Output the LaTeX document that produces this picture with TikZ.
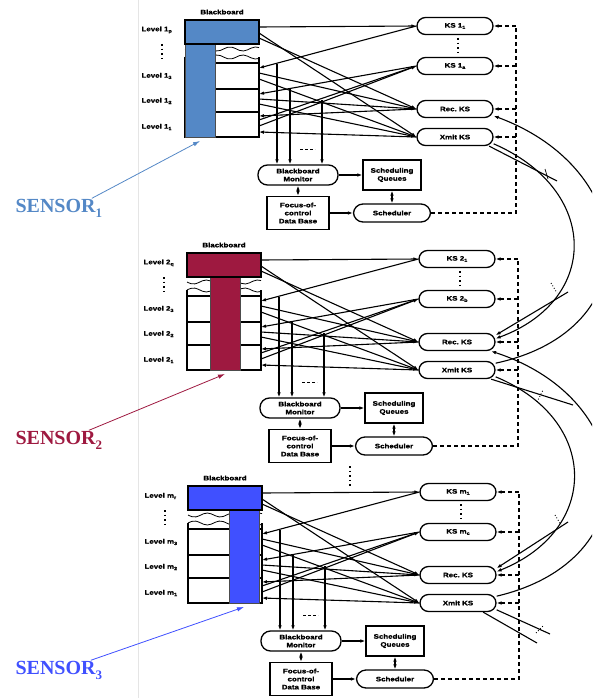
\documentclass[tikz,border=0pt]{standalone}
\usepackage{fontspec}
\usetikzlibrary{arrows.meta}
\newfontfamily\figfont[FakeStretch=1.22,BoldFeatures={FakeBold=1.2}]{Liberation Sans}
\newfontfamily\senfont{Liberation Serif}
\newcommand\lsub[1]{\raisebox{-1.3pt}{\fontsize{4.5}{5}\selectfont #1}}
\newcommand\sensub[1]{\raisebox{-5pt}{\fontsize{13}{13}\selectfont #1}}
\definecolor{sensorA}{RGB}{84,136,198}
\definecolor{sensorB}{RGB}{158,25,64}
\definecolor{sensorC}{RGB}{64,80,255}
\tikzset{
  lbl/.style={font=\figfont\fontsize{6.5}{8}\selectfont\bfseries, inner sep=0pt, align=center},
  tip/.style={-{Latex[length=5pt,width=3.6pt]}},
  dtip/.style={{Latex[length=5pt,width=3.6pt]}-{Latex[length=5pt,width=3.6pt]}},
  ksbox/.style={lbl, draw, line width=1.3pt, rounded corners=8.5pt, minimum width=76pt, minimum height=17pt},
  stadium/.style={lbl, draw, line width=1.3pt, rounded corners=9.5pt},
  rectbox/.style={lbl, draw, line width=1.3pt},
  dotline/.style={line width=1.6pt, dash pattern=on 1.6pt off 3pt},
  feedback/.style={line width=1.1pt, dash pattern=on 4pt off 3pt},
  senlbl/.style={font=\senfont\fontsize{20}{22}\selectfont\bfseries, inner sep=0pt, anchor=west},
  senarrow/.style={line width=0.8pt, -{Latex[length=7pt,width=4.5pt]}}
}
\begin{document}
\begin{tikzpicture}[x=1pt,y=-1pt,line width=1.1pt]
\useasboundingbox (0,0) rectangle (592,698);
\clip (0,0) rectangle (592,698);

% Drawing edge of the scanned page
\draw[black!10,line width=0.6pt] (138,0) -- (138,698);

% Drawing the three sensor nodes
\foreach \b/\dx/\dy/\lv/\lt/\kc/\tcol/\tx in
  {1/0/0/1/p/a/sensorA/185, 2/2/233/2/q/b/sensorB/208, 3/3/466/m/r/c/sensorC/226}{
\begin{scope}[shift={(\dx,\dy)}]
  % Drawing blackboard levels
  \node[lbl] (bb-\b) at (222,12) {Blackboard};
  \draw[line width=1.3pt] (185,57) -- (185,137) -- (259,137) -- (259,57);
  \draw (185,63) -- (259,63);
  \draw (185,89) -- (259,89);
  \draw (185,112) -- (259,112);
  \draw[line width=0.8pt] plot[smooth,domain=0:74,samples=20] ({185+\x},{49+2*sin(\x*14)});
  \draw[line width=0.8pt] plot[smooth,domain=0:74,samples=20] ({185+\x},{57-2*sin(\x*14)});

  % Filling sensor T
  \fill[\tcol] (185,20) rectangle (259,44);
  \fill[\tcol] (\tx,44) rectangle (\tx+30,137);
  \draw[line width=0.4pt,black!70] (\tx,44) -- (\tx,137) -- (\tx+30,137) -- (\tx+30,44);
  \draw[line width=1.3pt] (185,20) rectangle (259,44);
  \coordinate (tb-\b) at (\tx+15,141);

  % Marking levels
  \node[lbl,anchor=west] (lvt-\b) at (141,30) {Level \lv\lsub{\lt}};
  \node[lbl,anchor=west] (lv3-\b) at (141,76) {Level \lv\lsub{3}};
  \node[lbl,anchor=west] (lv2-\b) at (141,101) {Level \lv\lsub{2}};
  \node[lbl,anchor=west] (lv1-\b) at (141,127) {Level \lv\lsub{1}};
  \draw[dotline] (162,44) -- (162,61);

  % Drawing knowledge sources
  \node[ksbox] (ks1-\b) at (455,26) {KS \lv\lsub{1}};
  \node[ksbox] (ksa-\b) at (455,66) {KS \lv\lsub{\kc}};
  \node[ksbox] (rec-\b) at (455,109) {Rec.\ KS};
  \node[ksbox] (xmit-\b) at (455,137) {Xmit KS};
  \draw[dotline] (458,38) -- (458,55);

  % Drawing control boxes
  \node[stadium, minimum width=80pt, minimum height=20pt] (mon-\b) at (298,175) {Blackboard\\Monitor};
  \node[rectbox, minimum width=58pt, minimum height=30pt] (que-\b) at (392,175) {Scheduling\\Queues};
  \node[rectbox, minimum width=62pt, minimum height=33pt] (foc-\b) at (298,213) {Focus-of-\\control\\Data Base};
  \node[stadium, minimum width=77pt, minimum height=18pt] (sch-\b) at (392,213) {Scheduler};
  \draw[tip] (mon-\b.east) -- (que-\b.west);
  \draw[dtip] (mon-\b.south) -- (foc-\b.north);
  \draw[dtip] (que-\b.south) -- (sch-\b.north);
  \draw[tip] (foc-\b.east) -- (sch-\b.west);

  % Drawing links blackboard - knowledge sources
  \foreach \c/\y in {a/68,b/73,c/79,d/94,e/99,f/104,g/116,h/120,i/126,j/132,t/27,u/33,v/38}
    \coordinate (s\c-\b) at (259,\y);
  \draw[tip] (st-\b) -- (ks1-\b.west);
  \draw[tip] (su-\b) -- (xmit-\b.west);
  \draw[tip] (sv-\b) -- (rec-\b.west);
  \draw[tip] (ks1-\b.west) -- (sa-\b);
  \draw[tip] (sb-\b) -- (rec-\b.west);
  \draw[tip] (sc-\b) -- (xmit-\b.west);
  \draw[tip] (ksa-\b.west) -- (sd-\b);
  \draw[tip] (se-\b) -- (rec-\b.west);
  \draw[tip] (sf-\b) -- (xmit-\b.west);
  \draw[tip] (rec-\b.west) -- (sg-\b);
  \draw[tip] (sh-\b) -- (ksa-\b.west);
  \draw[tip] (si-\b) -- (ksa-\b.west);
  \draw[tip] (xmit-\b.west) -- (sj-\b);

  % Drawing taps to the monitor
  \coordinate (tapa-\b) at (277,64);
  \coordinate (tapb-\b) at (290,89);
  \coordinate (tapc-\b) at (322,100);
  \draw[tip] (tapa-\b) -- (tapa-\b |- mon-\b.north);
  \draw[tip] (tapb-\b) -- (tapb-\b |- mon-\b.north);
  \draw[tip] (tapc-\b) -- (tapc-\b |- mon-\b.north);
  \draw[line width=0.9pt, dash pattern=on 3pt off 2pt] (300,149) -- (315,149);

  % Drawing scheduler feedback
  \coordinate (fb-\b) at (516,213);
  \draw[feedback] (sch-\b.east) -- (fb-\b) -- (fb-\b |- ks1-\b.east);
  \foreach \k in {ks1,ksa,rec,xmit}
    \draw[feedback,tip] (fb-\b |- \k-\b.east) -- (\k-\b.east);
\end{scope}}

% Drawing links between sensors
\draw[tip] (xmit-1.-10) .. controls (600,190) and (600,300) .. (rec-2.5);
\draw[tip] (xmit-2.10) .. controls (650,330) and (640,170) .. (rec-1.-10);
\draw[tip] (xmit-2.-10) .. controls (600,420) and (600,530) .. (rec-3.5);
\draw[tip] (xmit-3.10) .. controls (650,560) and (640,400) .. (rec-2.-15);

% Drawing links to other sensors
\coordinate (out1) at (557,181);
\draw (xmit-1.-15) -- (out1);
\draw[line width=0.7pt] (545,169) -- (548,179);
\coordinate (in2) at (568,292);
\draw[tip] (in2) -- (rec-2.10);
\draw[dotted, line width=0.9pt] (551,283) -- (557,293);
\coordinate (out2) at (573,405);
\draw (xmit-2.-15) -- (out2);
\draw[dotted, line width=0.9pt] (537,402) -- (543,390);
\coordinate (in3) at (568,522);
\draw[tip] (in3) -- (rec-3.10);
\draw[dotted, line width=0.9pt] (555,515) -- (561,525);
\coordinate (out3a) at (550,634);
\coordinate (out3b) at (537,643);
\draw (xmit-3.-10) -- (out3a);
\draw (xmit-3.-20) -- (out3b);
\draw[dotted, line width=0.9pt] (536,633) -- (543,626);

% Marking further sensors
\draw[dotline] (350,466) -- (350,486);

% Marking sensors
\node[senlbl, text=sensorA] (sen1) at (15,208) {SENSOR\sensub{1}};
\node[senlbl, text=sensorB] (sen2) at (15,440) {SENSOR\sensub{2}};
\node[senlbl, text=sensorC] (sen3) at (15,670) {SENSOR\sensub{3}};
\draw[senarrow, sensorA] ([xshift=33pt]sen1.north) -- (tb-1);
\draw[senarrow, sensorB] ([xshift=30pt]sen2.north) -- (tb-2);
\draw[senarrow, sensorC] ([xshift=32pt]sen3.north) -- (tb-3);
\end{tikzpicture}
\end{document}
